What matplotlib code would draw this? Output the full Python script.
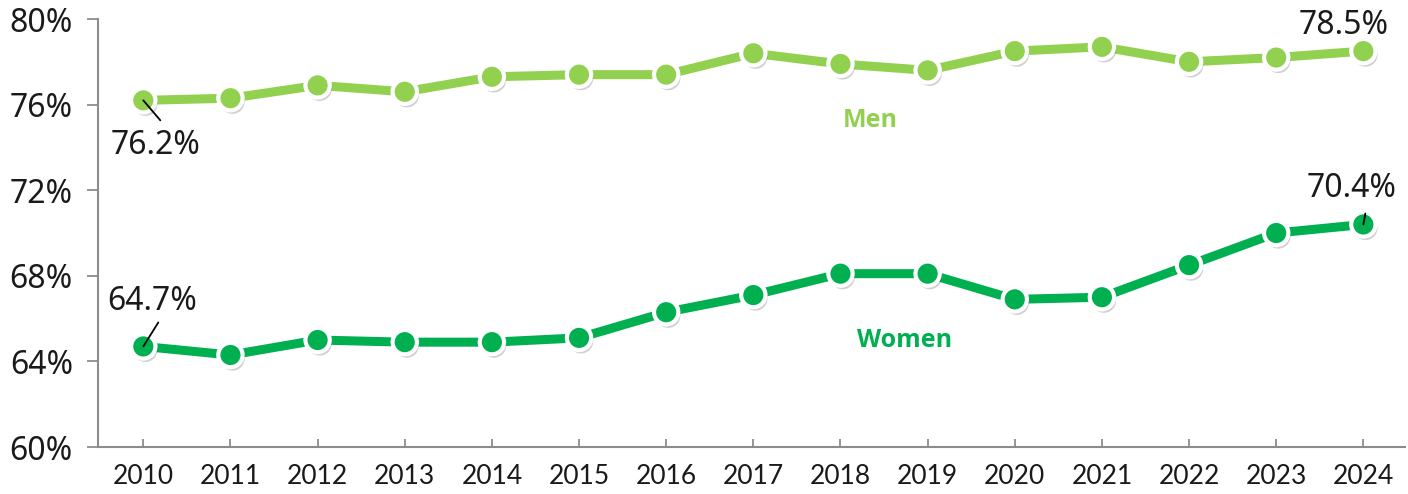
import matplotlib
matplotlib.use("Agg")
import matplotlib.pyplot as plt
import matplotlib.patheffects as pe

# employment rate by sex
years = ["2010", "2011", "2012", "2013", "2014", "2015", "2016", "2017",
         "2018", "2019", "2020", "2021", "2022", "2023", "2024"]
men = [76.2, 76.3, 76.9, 76.6, 77.3, 77.4, 77.4, 78.4, 77.9, 77.6, 78.5, 78.7, 78.0, 78.2, 78.5]
women = [64.7, 64.3, 65.0, 64.9, 64.9, 65.1, 66.3, 67.1, 68.1, 68.1, 66.9, 67.0, 68.5, 70.0, 70.4]
y_ticks = [60, 64, 68, 72, 76, 80]

MEN_COLOR = "#92D050"
WOMEN_COLOR = "#00B050"
AXIS_COLOR = "#8c8c8c"

fig = plt.figure(figsize=(14.08, 4.94), dpi=100)
ax = fig.add_axes([0.0696, 0.0951, 0.9284, 0.8664])

x = list(range(len(years)))
shadow = [pe.SimplePatchShadow(offset=(1.5, -2.5), shadow_rgbFace="#000000", alpha=0.18), pe.Normal()]

for vals, col in [(men, MEN_COLOR), (women, WOMEN_COLOR)]:
    ax.plot(x, vals, color=col, lw=6.5, solid_capstyle="round", zorder=2)
    ax.plot(x, vals, ls="none", marker="o", ms=17.5, mfc=col, mec="white", mew=3,
            zorder=3, path_effects=shadow)

ax.set_xlim(-0.52, 14.48)
ax.set_ylim(60, 80)
ax.set_xticks(x)
ax.set_xticklabels(years, fontsize=19, family="Lato", color="#1a1a1a")
ax.set_yticks(y_ticks)
ax.set_yticklabels([f"{v}%" for v in y_ticks], fontsize=23, family="Noto Sans", color="#1a1a1a")

for s in ["top", "right"]:
    ax.spines[s].set_visible(False)
for s in ["left", "bottom"]:
    ax.spines[s].set_color(AXIS_COLOR)
    ax.spines[s].set_linewidth(1.5)
ax.tick_params(axis="y", direction="out", length=8, width=1.3, color=AXIS_COLOR, pad=10)
ax.tick_params(axis="x", direction="in", length=6, width=1.3, color=AXIS_COLOR, pad=12)

# data labels at the ends, with short leader lines
lab = dict(fontsize=23, family="Noto Sans", color="#1a1a1a", ha="center", va="center", zorder=5)
ax.text(x[0] + 0.14, 74.1, "76.2%", **lab)
ax.text(x[0] + 0.10, 66.8, "64.7%", **lab)
ax.text(x[-1] - 0.22, 79.7, "78.5%", **lab)
ax.text(x[-1] - 0.14, 72.1, "70.4%", **lab)

leader = dict(arrowstyle="-", color="black", lw=1.3, shrinkA=0, shrinkB=0)
ax.annotate("", xy=(x[0], men[0]), xytext=(17, -20), textcoords="offset pixels", arrowprops=leader, zorder=5)
ax.annotate("", xy=(x[0], women[0]), xytext=(15, 24), textcoords="offset pixels", arrowprops=leader, zorder=5)
ax.annotate("", xy=(x[-1], women[-1]), xytext=(2, 11), textcoords="offset pixels", arrowprops=leader, zorder=5)

# series names
ax.text(8.34, 75.28, "Men", color=MEN_COLOR, fontsize=18, fontweight="bold", family="Open Sans",
        ha="center", va="center")
ax.text(8.74, 65.0, "Women", color=WOMEN_COLOR, fontsize=18, fontweight="bold", family="Open Sans",
        ha="center", va="center")

# title is cut off at the top edge of the reference
fig.text(0.43, 1.012, "Yearly employment rate by sex", fontsize=19, fontweight="bold",
         family="Open Sans", ha="center", va="baseline")

fig.savefig("out.png", dpi=100)
